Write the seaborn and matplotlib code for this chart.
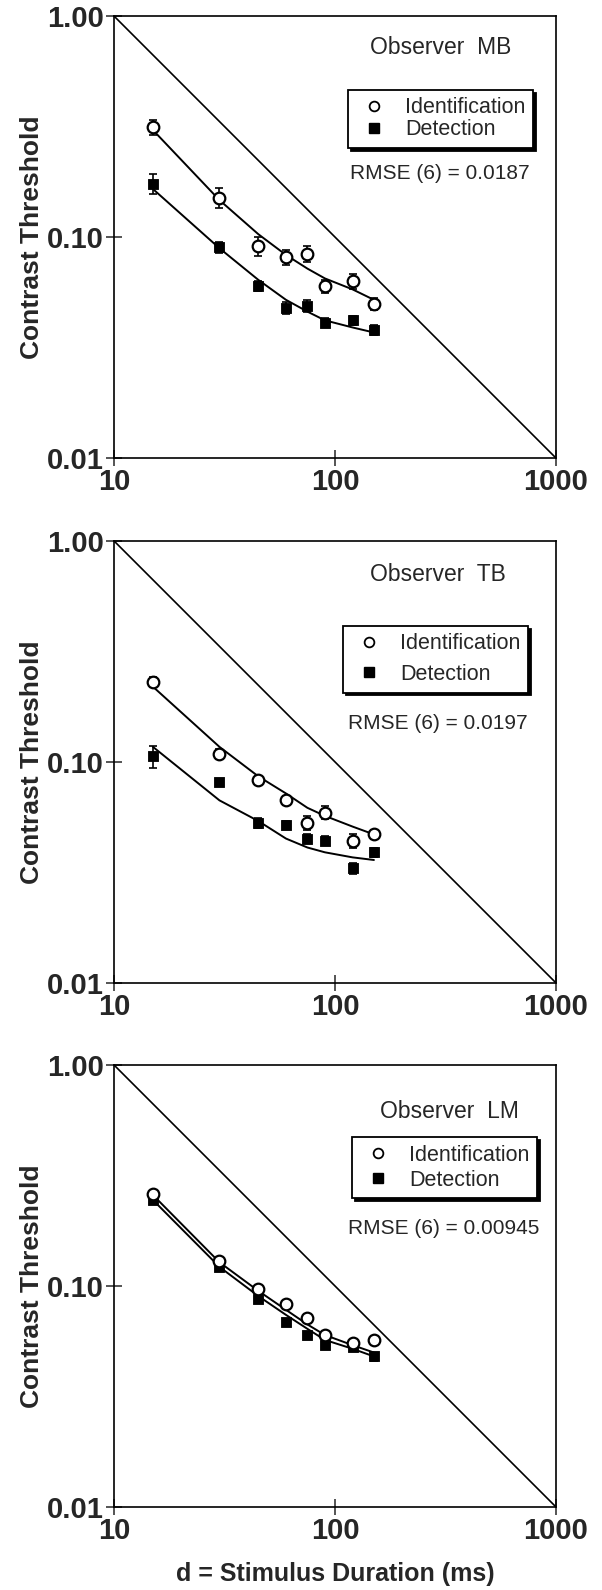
import numpy as np
import pandas as pd
import seaborn as sns
import matplotlib
matplotlib.use("Agg")
import matplotlib.pyplot as plt

# stimulus durations (ms)
durations = [15, 30, 45, 60, 75, 90, 120, 150]

observers = ["MB", "TB", "LM"]
rmse_labels = ["RMSE (6) = 0.0187", "RMSE (6) = 0.0197", "RMSE (6) = 0.00945"]

# measured thresholds
ident_mb = [0.315, 0.151, 0.091, 0.081, 0.084, 0.060, 0.063, 0.050]
detect_mb = [0.174, 0.090, 0.060, 0.048, 0.049, 0.041, 0.042, 0.038]
ident_tb = [0.231, 0.109, 0.083, 0.067, 0.053, 0.059, 0.044, 0.047]
detect_tb = [0.106, 0.081, 0.053, 0.052, 0.045, 0.044, 0.033, 0.039]
ident_lm = [0.262, 0.130, 0.097, 0.083, 0.072, 0.060, 0.055, 0.057]
detect_lm = [0.244, 0.122, 0.087, 0.069, 0.060, 0.054, 0.053, 0.048]

# error bars
ident_mb_err = [0.025, 0.015, 0.009, 0.006, 0.007, 0.004, 0.005, 0.003]
detect_mb_err = [0.018, 0.005, 0.003, 0.003, 0.003, 0.002, 0.002, 0.002]
ident_tb_err = [0.012, 0.006, 0.003, 0.003, 0.004, 0.004, 0.003, 0.002]
detect_tb_err = [0.012, 0.003, 0.003, 0.002, 0.002, 0.002, 0.002, 0.002]
ident_lm_err = [0.008, 0.004, 0.003, 0.002, 0.003, 0.002, 0.002, 0.002]
detect_lm_err = [0.008, 0.004, 0.003, 0.002, 0.002, 0.002, 0.002, 0.002]

# model fits
fit_ident_mb = [0.305, 0.147, 0.103, 0.083, 0.072, 0.065, 0.058, 0.052]
fit_detect_mb = [0.165, 0.089, 0.064, 0.052, 0.046, 0.042, 0.039, 0.037]
fit_ident_tb = [0.219, 0.117, 0.086, 0.072, 0.062, 0.057, 0.051, 0.047]
fit_detect_tb = [0.117, 0.067, 0.054, 0.045, 0.041, 0.039, 0.037, 0.036]
fit_ident_lm = [0.258, 0.128, 0.095, 0.078, 0.067, 0.060, 0.054, 0.050]
fit_detect_lm = [0.245, 0.122, 0.090, 0.074, 0.064, 0.057, 0.052, 0.048]

# reference diagonal
diag_x = [10, 1000]
diag_y = [1.0, 0.01]

x_ticks = [10, 100, 1000]
x_tick_labels = ["10", "100", "1000"]
y_ticks = [0.01, 0.1, 1.0]
y_tick_labels = ["0.01", "0.10", "1.00"]

panels = [
    (ident_mb, detect_mb, ident_mb_err, detect_mb_err, fit_ident_mb, fit_detect_mb),
    (ident_tb, detect_tb, ident_tb_err, detect_tb_err, fit_ident_tb, fit_detect_tb),
    (ident_lm, detect_lm, ident_lm_err, detect_lm_err, fit_ident_lm, fit_detect_lm),
]

sns.set_style("ticks")
plt.rcParams['font.family'] = ['Liberation Sans', 'DejaVu Sans']

fig = plt.figure(figsize=(6.02, 15.9), dpi=100)

bottoms = [0.7119, 0.3818, 0.0522]
title_pos = [(0.740, 0.928), (0.733, 0.923), (0.758, 0.894)]
legend_anchor = [(0.529, 0.833), (0.518, 0.808), (0.538, 0.837)]
legend_spacing = [0.05, 0.45, 0.2]
rmse_pos = [(0.534, 0.643), (0.529, 0.586), (0.529, 0.631)]

for i, (ident, detect, ie, de, fi, fd) in enumerate(panels):
    ax = fig.add_axes([0.1894, bottoms[i], 0.7342, 0.278])
    ax.set_xscale("log")
    ax.set_yscale("log")

    sns.lineplot(x=diag_x, y=diag_y, color="black", lw=1.2, ax=ax)
    sns.lineplot(x=durations, y=fi, color="black", lw=1.4, ax=ax)
    sns.lineplot(x=durations, y=fd, color="black", lw=1.4, ax=ax)

    ax.errorbar(durations, ident, yerr=ie, fmt="none", ecolor="black",
                elinewidth=1.2, capsize=3, capthick=1.2, zorder=3)
    ax.errorbar(durations, detect, yerr=de, fmt="none", ecolor="black",
                elinewidth=1.2, capsize=3, capthick=1.2, zorder=3)

    sns.scatterplot(x=durations, y=detect, marker="s", color="black",
                    edgecolor="black", s=60, zorder=4, ax=ax)
    sns.scatterplot(x=durations, y=ident, marker="o", facecolor="white",
                    edgecolor="black", linewidth=1.6, s=70, zorder=5, ax=ax)

    ax.set_xlim(10, 1000)
    ax.set_ylim(0.01, 1.0)
    ax.minorticks_off()
    ax.set_xticks(x_ticks)
    ax.set_xticklabels(x_tick_labels)
    ax.set_yticks(y_ticks)
    ax.set_yticklabels(y_tick_labels)
    ax.tick_params(axis="both", direction="inout", length=11, width=1.1,
                   labelsize=21, pad=2)
    for lab in ax.get_xticklabels() + ax.get_yticklabels():
        lab.set_fontweight("bold")
    for sp in ax.spines.values():
        sp.set_linewidth(1.2)
        sp.set_color("black")

    ax.set_ylabel("Contrast Threshold", fontsize=19, fontweight="bold", labelpad=2)
    if i == 2:
        ax.set_xlabel("d = Stimulus Duration (ms)", fontsize=18,
                      fontweight="bold", labelpad=12)

    ax.text(title_pos[i][0], title_pos[i][1], "Observer  " + observers[i],
            transform=ax.transAxes, ha="center", va="center", fontsize=16.5)
    ax.text(rmse_pos[i][0], rmse_pos[i][1], rmse_labels[i], transform=ax.transAxes,
            ha="left", va="center", fontsize=15)

    handles = [
        plt.Line2D([], [], marker="o", ls="none", mfc="white", mec="black",
                   mew=1.3, ms=7),
        plt.Line2D([], [], marker="s", ls="none", mfc="black", mec="black", ms=7),
    ]
    leg = ax.legend(handles, ["Identification", "Detection"], loc="upper left",
                    bbox_to_anchor=legend_anchor[i], fontsize=15.5, frameon=True,
                    fancybox=False, shadow={"color": "black", "alpha": 1, "ox": 2, "oy": -2},
                    edgecolor="black", handletextpad=0.6, borderpad=0.35,
                    labelspacing=legend_spacing[i], handlelength=1.7,
                    borderaxespad=0)
    leg.get_frame().set_linewidth(1.3)

fig.savefig("out.png", dpi=100)
